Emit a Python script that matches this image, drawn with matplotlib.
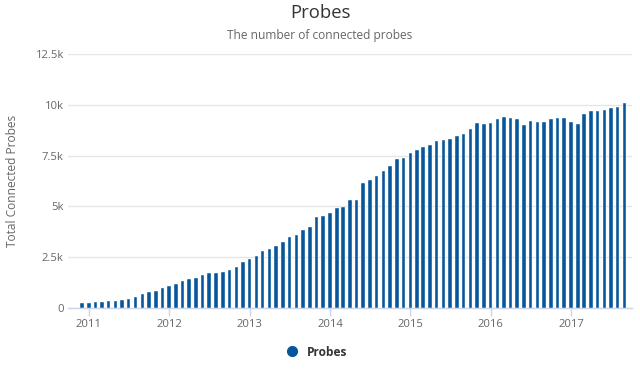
import matplotlib
matplotlib.use("Agg")
import matplotlib.pyplot as plt
import matplotlib.dates as mdates
from matplotlib.ticker import FixedLocator
from matplotlib.lines import Line2D
import datetime as dt

plt.rcParams['font.family'] = ['Open Sans', 'DejaVu Sans']

start_year, start_month = 2010, 12
values = [
    246,
    246, 296, 296, 345, 345, 394, 427, 525, 673, 772, 854, 985,
    1084, 1182, 1330, 1429, 1461, 1609, 1724, 1724, 1790, 1888, 2036, 2266,
    2414, 2562, 2808, 2890, 3038, 3268, 3498, 3596, 3842, 3974, 4483, 4532,
    4680, 4911, 4960, 5305, 5337, 6143, 6322, 6520, 6749, 6979, 7356, 7405,
    7635, 7783, 7931, 8030, 8210, 8259, 8308, 8440, 8571, 8785, 9097, 9049,
    9097, 9300, 9392, 9343, 9310, 9015, 9212, 9146, 9146, 9310, 9343, 9343,
    9146, 9049, 9557, 9672, 9672, 9721, 9836, 9885, 10084,
]
y_ticks = [0, 2500, 5000, 7500, 10000, 12500]
y_tick_labels = ["0", "2.5k", "5k", "7.5k", "10k", "12.5k"]
x_tick_years = [2011, 2012, 2013, 2014, 2015, 2016, 2017]

dates = []
y, m = start_year, start_month
for _ in values:
    dates.append(dt.date(y, m, 1))
    m += 1
    if m > 12:
        m = 1
        y += 1

fig = plt.figure(figsize=(6.4, 3.73), dpi=100)
ax = fig.add_axes([68/640, 1-308/373, (632-68)/640, (308-54)/373])

xd = mdates.date2num(dates)
ax.bar(xd, values, width=16, color='#07569b', edgecolor='white', linewidth=0.3, zorder=3)

ax.set_ylim(0, 12500)
ax.set_xlim(mdates.date2num(dt.date(2010, 9, 28)), mdates.date2num(dt.date(2017, 10, 5)))

ax.yaxis.set_major_locator(FixedLocator(y_ticks))
ax.set_yticklabels(y_tick_labels)
ax.grid(axis='y', color='#e6e6e6', linewidth=1, zorder=0)
ax.tick_params(axis='y', length=0, pad=3, labelsize=8.1, labelcolor='#666666')

xt = [mdates.date2num(dt.date(yr, 1, 1)) for yr in x_tick_years]
ax.set_xticks(xt)
ax.set_xticklabels([str(yr) for yr in x_tick_years])
ax.tick_params(axis='x', length=6, width=1, color='#ccd6eb', pad=2, labelsize=8.1, labelcolor='#666666')

for s in ['top', 'right', 'left']:
    ax.spines[s].set_visible(False)
ax.spines['bottom'].set_color('#ccd6eb')
ax.spines['bottom'].set_linewidth(1)

ax.set_ylabel('Total Connected Probes', fontsize=8.6, color='#666666', labelpad=12)

fig.text(0.5, 1-13/373, 'Probes', ha='center', va='center', fontsize=13.3, color='#333333')
fig.text(0.5, 1-35/373, 'The number of connected probes', ha='center', va='center', fontsize=8.6, color='#666666')

handle = Line2D([], [], marker='o', linestyle='none', markersize=7, color='#07569b')
fig.legend([handle], ['Probes'], loc='center', bbox_to_anchor=(0.49, 1-352/373), frameon=False,
           prop={'weight': 'bold', 'size': 8.6}, labelcolor='#333333', handletextpad=0.2)

fig.savefig('out.png', dpi=100)
